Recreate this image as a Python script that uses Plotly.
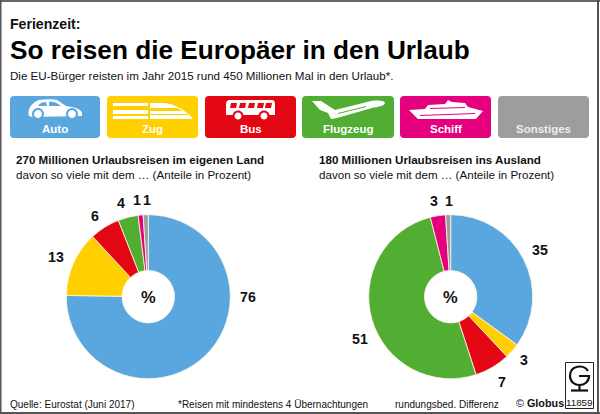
import re
import plotly.graph_objects as go

categories = ["Auto", "Zug", "Bus", "Flugzeug", "Schiff", "Sonstiges"]
colors = ["#5AA7DF", "#FFCF00", "#E30613", "#52AE32", "#E5007E", "#9D9D9C"]
inland_values = [76, 13, 6, 4, 1, 1]
ausland_values = [35, 3, 7, 51, 3, 1]

W, H = 600, 414
FONT = "Liberation Sans"


def px(x):
    return x / W


def py(y):
    return 1 - y / H


def conv(path):
    toks = re.findall(r"[A-Za-z]|-?\d+\.?\d*", path)
    out, i = [], 0
    for t in toks:
        if t.isalpha():
            out.append(t)
        else:
            out.append(f"{px(float(t)):.5f}" if i % 2 == 0 else f"{py(float(t)):.5f}")
            i += 1
    return " ".join(out)


shapes, annots = [], []


def shape(path, fill="white", line=None, lw=0):
    shapes.append(dict(type="path", xref="paper", yref="paper", path=conv(path),
                       fillcolor=fill, line=dict(color=line or "rgba(0,0,0,0)", width=lw), layer="above"))


def text(x, y, s, size, bold=False, color="#111111", anchor="left"):
    annots.append(dict(xref="paper", yref="paper", x=px(x - 1 if anchor == "left" else x), y=py(y),
                       text=f"<b>{s}</b>" if bold else s,
                       showarrow=False, xanchor=anchor, yanchor="middle", borderpad=0,
                       font=dict(family=FONT, size=size, color=color)))


def rrect(x0, y0, x1, y1, r, fill):
    shape(f"M {x0+r} {y0} L {x1-r} {y0} Q {x1} {y0} {x1} {y0+r} L {x1} {y1-r} Q {x1} {y1} {x1-r} {y1} "
          f"L {x0+r} {y1} Q {x0} {y1} {x0} {y1-r} L {x0} {y0+r} Q {x0} {y0} {x0+r} {y0} Z", fill)


def circle(cx, cy, r, fill="white", line=None, lw=0):
    k = r * 0.5523
    shape(f"M {cx-r} {cy} C {cx-r} {cy-k} {cx-k} {cy-r} {cx} {cy-r} C {cx+k} {cy-r} {cx+r} {cy-k} {cx+r} {cy} "
          f"C {cx+r} {cy+k} {cx+k} {cy+r} {cx} {cy+r} C {cx-k} {cy+r} {cx-r} {cy+k} {cx-r} {cy} Z", fill, line, lw)


# frame
shape("M 0 0 L 600 0 L 600 2 L 0 2 Z", "#666666")
shape("M 0 0 L 1.5 0 L 1.5 414 L 0 414 Z", "#555555")
shape("M 597 0 L 599 0 L 599 414 L 597 414 Z", "#555555")
shape("M 0 412 L 600 412 L 600 414 L 0 414 Z", "#555555")

# header
text(10, 24, "Ferienzeit:", 14.1, True)
text(10, 50, "So reisen die Europäer in den Urlaub", 26.2, True, "#000000")
text(10, 75, "Die EU-Bürger reisten im Jahr 2015 rund 450 Millionen Mal in den Urlaub*.", 11.6)

# category buttons
btn_x = [(10, 100), (107, 198), (205, 296), (302, 394), (400, 491), (498, 589)]
for (x0, x1), c, name in zip(btn_x, colors, categories):
    rrect(x0, 96, x1, 138, 4, c)
    text((x0 + x1) / 2, 129, name, 11.5, True, "white" if name != "Sonstiges" else "#EDEDED", "center")

# car
B = colors[0]
shape("M 29 116 C 27 110 31 103 39 100 C 46 99 53 99 57 100 L 66 106 C 74 107 81 109 82 113 "
      "L 82 116 L 33 117 Z")
shape("M 38 106 C 40 103 43 102 46 102 L 47 106 Z M 49 102 C 54 101 57 103 61 106 L 49 106 Z", B)
circle(38, 114, 6, B)
circle(38, 114, 4)
circle(72, 114, 6, B)
circle(72, 114, 4)

# train
Y = colors[1]
shape("M 113 103 L 148 103 L 148 106 L 113 106 Z M 150 103 L 165 103 C 176 104 188 112 193 119 L 150 119 Z")
shape("M 113 110 L 148 110 L 148 114 L 113 114 Z M 113 116 L 148 116 L 148 119 L 113 119 Z")
shape("M 150 108 L 178 108 L 182 111 L 150 111 Z M 150 114 L 188 114 L 188 115 L 150 115 Z", Y)

# bus
R = colors[2]
shape("M 230 100 L 272 100 Q 275 100 275 104 L 275 115 L 226 115 L 226 104 Q 226 100 230 100 Z")
for bx in (231, 240, 249, 258, 266):
    shape(f"M {bx} 103 L {bx+6} 103 L {bx+5} 108 L {bx-1} 108 Z", R)
circle(238, 116, 5.5, R)
circle(238, 116, 3.5)
circle(264, 116, 5.5, R)
circle(264, 116, 3.5)

# plane
shape("M 312 101 L 321 101 L 335 110 L 367 102 C 375 100 384 100 385 103 C 384 106 378 107 372 108 "
      "L 337 118 L 331 119 L 328 113 L 320 110 Z")
G = colors[3]
shape("M 338 113 L 366 106 L 366 107 L 338 114 Z", G)

# ship
M = colors[4]
shape("M 409 110 L 425 109 L 428 105 L 445 104 L 448 100 L 452 102 L 465 103 L 468 107 L 483 111 L 476 119 L 418 119 Z")
shape("M 420 115 L 475 113 L 475 114 L 420 116 Z M 430 108 L 465 107 L 465 108 L 430 109 Z", M)

# subheads
text(16, 160, "270 Millionen Urlaubsreisen im eigenen Land", 11.6, True)
text(16, 174, "davon so viele mit dem … (Anteile in Prozent)", 11.6)
text(319, 160, "180 Millionen Urlaubsreisen ins Ausland", 11.6, True)
text(319, 174, "davon so viele mit dem … (Anteile in Prozent)", 11.6)

# value labels
pos_in = [(248, 297), (56, 257), (95, 216), (121, 203), (137, 200), (147, 200)]
pos_out = [(540, 250), (524, 360), (502, 382), (360, 339), (434, 201), (449, 201)]
for vals, pos in ((inland_values, pos_in), (ausland_values, pos_out)):
    for v, (x, y) in zip(vals, pos):
        text(x, y, str(v), 14.2, True, "#111111", "center")
text(148, 297, "%", 16.5, True, "#111111", "center")
text(450.5, 297, "%", 16.5, True, "#111111", "center")

# footer
text(10, 404, "Quelle: Eurostat (Juni 2017)", 10)
text(178, 404, "*Reisen mit mindestens 4 Übernachtungen", 10)
text(395, 404, "rundungsbed. Differenz", 10)
text(516, 403, "© <b>Globus</b>", 10.8)

# Globus logo
shape("M 565.5 362.5 L 593.5 362.5 L 593.5 408.5 L 565.5 408.5 Z", "white", "#222222", 1)
shape("M 588 371 C 584 364 570 365 570 376 C 570 388 589 388 589 376 L 579 376", "rgba(0,0,0,0)", "#111111", 2.2)
shape("M 579.5 385 L 579.5 390", "rgba(0,0,0,0)", "#111111", 2.2)
shape("M 571 390.5 L 588 390.5", "rgba(0,0,0,0)", "#111111", 2.2)
text(579.5, 402, "11859", 9.8, False, "#111111", "center")


def pie(values, cx, cy, r):
    return go.Pie(labels=categories, values=values, sort=False, direction="clockwise", rotation=0, hole=0.32,
                  textinfo="none", hoverinfo="label+value",
                  marker=dict(colors=colors, line=dict(color="#FFF8E8", width=0.8)),
                  domain=dict(x=[px(cx - r), px(cx + r)], y=[py(cy + r), py(cy - r)]))


fig = go.Figure([pie(inland_values, 148.3, 296.7, 82), pie(ausland_values, 450.7, 296.7, 82)])
fig.update_layout(width=W, height=H, margin=dict(l=0, r=0, t=0, b=0), showlegend=False,
                  paper_bgcolor="white", shapes=shapes, annotations=annots, font=dict(family=FONT))
fig.write_html("out.html", post_script="document.body.style.margin='0';", config=dict(displayModeBar=False))
